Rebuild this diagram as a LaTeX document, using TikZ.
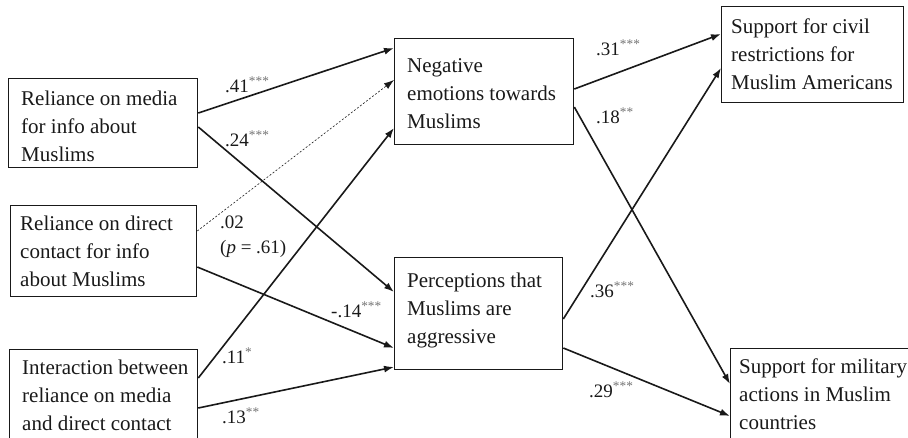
\documentclass[tikz,border=0pt]{standalone}
\usepackage{fontspec}
\setmainfont{Liberation Serif}
\usetikzlibrary{arrows.meta}
\newcommand{\sigst}[1]{\textsuperscript{\color{black!55}#1}}
\begin{document}
\begin{tikzpicture}[x=1pt,y=-1pt,
  box/.style={draw=black!90, line width=1.3pt, inner sep=0pt, anchor=north west},
  txt/.style={anchor=base west, align=left, inner sep=0pt, text=black!90, font=\fontsize{21}{28}\selectfont},
  lab/.style={anchor=base west, inner sep=0pt, text=black!90, font=\fontsize{19}{24}\selectfont},
  conn/.style={line width=1.6pt, draw=black!90, -{Latex[length=10pt,width=7pt]}},
  dconn/.style={line width=0.6pt, draw=black!90, dash pattern=on 2pt off 1.8pt, -{Latex[length=10pt,width=7pt]}}
]
\useasboundingbox (0,0) rectangle (908,437);

% boxes
\node[box, minimum width=189pt, minimum height=89pt] (b1) at (8,78) {};
\node[box, minimum width=186pt, minimum height=91pt] (b2) at (10,205) {};
\node[box, minimum width=188pt, minimum height=91pt] (b3) at (9,349) {};
\node[box, minimum width=179pt, minimum height=106pt] (ne) at (394,38) {};
\node[box, minimum width=168pt, minimum height=112pt] (pe) at (394,257) {};
\node[box, minimum width=182pt, minimum height=96pt] (sc) at (721,6) {};
\node[box, minimum width=185pt, minimum height=95pt] (sm) at (730,348) {};

% texts (anchored at the baseline of the last line)
\node[txt] (b1t) at (21,161) {Reliance on media\\for info about\\Muslims};
\node[txt] (b2t) at (20,286) {Reliance on direct\\contact for info\\about Muslims};
\node[txt] (b3t) at (22,430) {Interaction between\\reliance on media\\and direct contact};
\node[txt] (net) at (407,128) {Negative\\emotions towards\\Muslims};
\node[txt] (pet) at (407,343) {Perceptions that\\Muslims are\\aggressive};
\node[txt] (sct) at (731,89) {Support for civil\\restrictions for\\Muslim Americans};
\node[txt] (smt) at (739,429) {Support for military\\actions in Muslim\\countries};

% connectors
\draw[conn] ([yshift=-35pt]b1.north east) -- ([yshift=-10pt]ne.north west);
\draw[conn] ([yshift=-49pt]b1.north east) -- ([yshift=-35pt]pe.north west);
\draw[dconn] ([yshift=-26pt]b2.north east) -- ([yshift=-42pt]ne.north west);
\draw[conn] ([yshift=-62pt]b2.north east) -- ([yshift=-91pt]pe.north west);
\draw[conn] ([yshift=-29pt]b3.north east) -- ([yshift=-90pt]ne.north west);
\draw[conn] ([yshift=-59pt]b3.north east) -- ([yshift=-110pt]pe.north west);
\draw[conn] ([yshift=-51pt]ne.north east) -- ([yshift=-28pt]sc.north west);
\draw[conn] ([yshift=-69pt]ne.north east) -- ([yshift=-36pt]sm.north west);
\draw[conn] ([yshift=-62pt]pe.north east) -- ([yshift=-62pt]sc.north west);
\draw[conn] ([yshift=-91pt]pe.north east) -- ([yshift=-68pt]sm.north west);

% labels
\node[lab] (l41) at (225,92) {.41\sigst{***}};
\node[lab] (l24) at (225,146) {.24\sigst{***}};
\node[lab] (l02) at (220,228) {.02};
\node[lab] (lp) at (220,253) {(\textit{p} = .61)};
\node[lab] (l14) at (331,317) {-.14\sigst{***}};
\node[lab] (l11) at (222,363) {.11\sigst{*}};
\node[lab] (l13) at (222,423) {.13\sigst{**}};
\node[lab] (l31) at (596,55) {.31\sigst{***}};
\node[lab] (l18) at (596,123) {.18\sigst{**}};
\node[lab] (l36) at (590,297) {.36\sigst{***}};
\node[lab] (l29) at (589,397) {.29\sigst{***}};
\end{tikzpicture}
\end{document}
